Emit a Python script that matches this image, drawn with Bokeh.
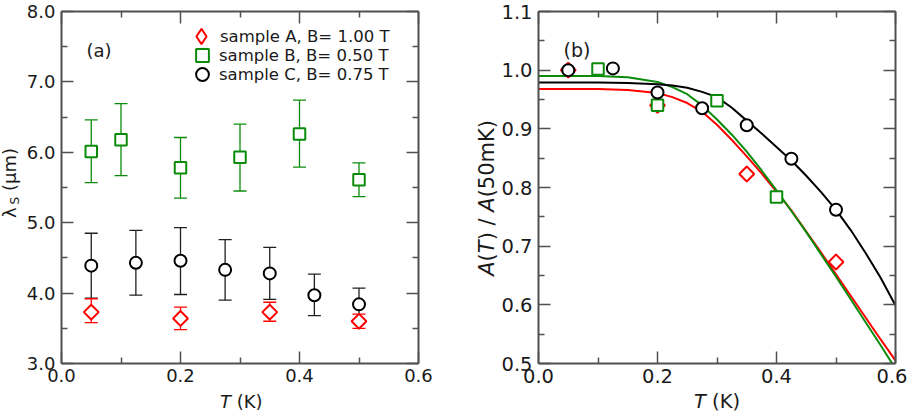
import math
from bokeh.plotting import figure
from bokeh.models import (Range1d, FixedTicker, NumeralTickFormatter, LinearAxis, Whisker,
                          TeeHead, ColumnDataSource, Label, Legend, LegendItem, Div,
                          CustomJSTickFormatter)
from bokeh.layouts import row, column
from bokeh.embed import file_html
from bokeh.resources import INLINE

# ---------------- data: panel (a) ----------------
T_A = [0.05, 0.2, 0.35, 0.5]
lam_A = [3.73, 3.64, 3.73, 3.60]
lam_A_hi = [3.92, 3.80, 3.87, 3.70]
lam_A_lo = [3.58, 3.48, 3.60, 3.50]

T_B = [0.05, 0.1, 0.2, 0.3, 0.4, 0.5]
lam_B = [6.01, 6.18, 5.78, 5.93, 6.26, 5.61]
lam_B_hi = [6.46, 6.69, 6.21, 6.40, 6.74, 5.85]
lam_B_lo = [5.57, 5.67, 5.35, 5.45, 5.79, 5.37]

T_C = [0.05, 0.125, 0.2, 0.275, 0.35, 0.425, 0.5]
lam_C = [4.39, 4.43, 4.46, 4.33, 4.28, 3.97, 3.84]
lam_C_hi = [4.85, 4.89, 4.93, 4.76, 4.65, 4.27, 4.07]
lam_C_lo = [3.93, 3.97, 3.98, 3.90, 3.91, 3.68, 3.61]

legend_labels = ["sample A, B= 1.00 T", "sample B, B= 0.50 T", "sample C, B= 0.75 T"]

# ---------------- data: panel (b) ----------------
Tb_A = [0.05, 0.2, 0.35, 0.5]
amp_A = [1.000, 0.940, 0.823, 0.673]
Tb_B = [0.1, 0.2, 0.3, 0.4]
amp_B = [1.002, 0.940, 0.948, 0.784]
Tb_C = [0.05, 0.125, 0.2, 0.275, 0.35, 0.425, 0.5]
amp_C = [1.000, 1.003, 0.962, 0.935, 0.906, 0.849, 0.762]

fit_T = [0.0, 0.05, 0.1, 0.15, 0.2, 0.225, 0.25, 0.275, 0.3, 0.325, 0.35, 0.375,
         0.4, 0.425, 0.45, 0.475, 0.5, 0.525, 0.55, 0.575, 0.6]
fit_A = [0.968, 0.968, 0.968, 0.966, 0.961, 0.954, 0.944, 0.929, 0.907, 0.881, 0.853, 0.824,
         0.793, 0.761, 0.725, 0.689, 0.652, 0.615, 0.578, 0.541, 0.505]
fit_B = [0.990, 0.990, 0.990, 0.988, 0.980, 0.971, 0.959, 0.940, 0.916, 0.890, 0.861, 0.829,
         0.795, 0.760, 0.724, 0.686, 0.648, 0.609, 0.570, 0.531, 0.491]
fit_C = [0.979, 0.979, 0.979, 0.978, 0.976, 0.974, 0.970, 0.963, 0.954, 0.936, 0.914, 0.892,
         0.869, 0.846, 0.820, 0.792, 0.762, 0.727, 0.688, 0.646, 0.599]

x_ticks = [0.0, 0.2, 0.4, 0.6]
x_minor = [0.1, 0.3, 0.5]
ya_ticks = [3.0, 4.0, 5.0, 6.0, 7.0, 8.0]
ya_minor = [3.5, 4.5, 5.5, 6.5, 7.5]
yb_ticks = [0.5, 0.6, 0.7, 0.8, 0.9, 1.0, 1.1]
yb_minor = [0.55, 0.65, 0.75, 0.85, 0.95, 1.05]

RED = "#ff0000"
GREEN = "#0a8c0a"
BLACK = "#000000"
AX = "#505050"
TXT = "#1a1a1a"
FONT = "DejaVu Sans"
FRAME_W, FRAME_H = 357, 352
TOP, BOTTOM = 11, 28
XLAB_H = 22


def make_fig(ml, mr, yr, yticks, yminor, fs):
    p = figure(frame_width=FRAME_W, frame_height=FRAME_H, x_range=Range1d(0, 0.6),
               y_range=Range1d(*yr), output_backend="svg", toolbar_location=None,
               min_border_left=ml, min_border_right=mr, min_border_top=TOP,
               min_border_bottom=BOTTOM, x_axis_location=None, y_axis_location=None,
               margin=0)
    p.outline_line_color = None
    p.grid.visible = False
    p.background_fill_color = "white"
    p.border_fill_color = "white"
    for loc, dim in [("below", "x"), ("above", "x"), ("left", "y"), ("right", "y")]:
        ticks = x_ticks if dim == "x" else yticks
        minor = x_minor if dim == "x" else yminor
        ax = LinearAxis(ticker=FixedTicker(ticks=ticks, minor_ticks=minor),
                        formatter=NumeralTickFormatter(format="0.0"),
                        axis_line_color=AX, axis_line_width=2,
                        major_tick_line_color=AX, major_tick_line_width=1.5,
                        minor_tick_line_color=AX, minor_tick_line_width=1.5,
                        major_tick_in=12, major_tick_out=0, minor_tick_in=6, minor_tick_out=0,
                        major_label_text_font=FONT, major_label_text_font_size=fs,
                        major_label_text_color=TXT,
                        major_label_standoff=5 if dim == "x" else 6)
        if loc in ("above", "right"):
            ax.formatter = CustomJSTickFormatter(code="return ''")
            ax.major_label_standoff = 0
        p.add_layout(ax, loc)
    return p


def whisk(p, xs, hi, lo, color):
    src = ColumnDataSource(dict(x=xs, upper=hi, lower=lo))
    w = Whisker(base="x", upper="upper", lower="lower", source=src, dimension="height",
                line_color=color, line_width=1.3,
                upper_head=TeeHead(size=13, line_color=color, line_width=1.3),
                lower_head=TeeHead(size=13, line_color=color, line_width=1.3))
    w.level = "underlay"
    p.add_layout(w)


def one_legend(p, label, rend, x_off, y_off, box, standoff):
    p.add_layout(Legend(items=[LegendItem(label=label, renderers=[rend])],
                        location=(x_off, y_off), label_text_font=FONT,
                        label_text_font_size="16.5px", label_text_color=TXT,
                        glyph_width=box, glyph_height=box, label_height=19,
                        label_standoff=standoff, spacing=0, padding=0, margin=0,
                        border_line_color=None, background_fill_alpha=0))


# ---------------- panel (a) ----------------
pa = make_fig(40, 49, (3.0, 8.0), ya_ticks, ya_minor, "18px")
whisk(pa, T_B, lam_B_hi, lam_B_lo, GREEN)
whisk(pa, T_C, lam_C_hi, lam_C_lo, "#202020")
whisk(pa, T_A, lam_A_hi, lam_A_lo, RED)
rB = pa.scatter(T_B, lam_B, marker="square", size=11.5, line_color=GREEN, line_width=2,
                fill_color="white")
rC = pa.scatter(T_C, lam_C, marker="circle", size=12, line_color=BLACK, line_width=2,
                fill_color="white")
# zero-size twin of sample A, only used for its (unrotated) diamond legend glyph
rA_leg = pa.scatter(T_A, lam_A, marker="diamond", size=0, line_color=RED, line_width=2,
                    fill_color="white")
rA = pa.scatter(T_A, lam_A, marker="square", angle=math.pi / 4, size=10.5, line_color=RED,
                line_width=2, fill_color="white")
one_legend(pa, legend_labels[0], rA_leg, 121, 308, 38, 0)
one_legend(pa, legend_labels[1], rB, 125, 292, 32, 1)
one_legend(pa, legend_labels[2], rC, 125, 273, 32, 1)
pa.add_layout(Label(x=0.042, y=7.445, text="(a)", text_font=FONT, text_font_size="18px",
                    text_color=TXT, text_baseline="alphabetic"))

# ---------------- panel (b) ----------------
pb = make_fig(38, 12, (0.5, 1.1), yb_ticks, yb_minor, "19.5px")
pb.line(fit_T, fit_A, line_color=RED, line_width=2)
pb.line(fit_T, fit_B, line_color=GREEN, line_width=2)
pb.line(fit_T, fit_C, line_color=BLACK, line_width=2)
pb.scatter(Tb_A, amp_A, marker="square", angle=math.pi / 4, size=10.5, line_color=RED,
           line_width=2, fill_color="white")
pb.scatter(Tb_B, amp_B, marker="square", size=11.5, line_color=GREEN, line_width=2,
           fill_color="white")
pb.scatter(Tb_C, amp_C, marker="circle", size=12, line_color=BLACK, line_width=2,
           fill_color="white")
pb.add_layout(Label(x=0.042, y=1.034, text="(b)", text_font=FONT, text_font_size="19px",
                    text_color=TXT, text_baseline="alphabetic"))

# ---------------- axis titles (HTML text for italic / subscript parts) ----------------
FIG_H = TOP + FRAME_H + BOTTOM
SPAN = (f"font-family:'{FONT}';color:{TXT};white-space:nowrap;line-height:1;"
        "writing-mode:vertical-rl;transform:rotate(180deg);")

ylab_a = Div(width=21, height=FIG_H + XLAB_H, margin=0, text=(
    f"<div style='width:21px;height:369px;display:flex;align-items:center;"
    f"justify-content:center;'><span style=\"{SPAN}font-size:18px;\">"
    "<span style='margin-inline:3px'>\u03bb</span><sub style='font-size:12px'>S</sub>"
    " (\u03bcm)</span></div>"))

ylab_b = Div(width=31, height=FIG_H + XLAB_H, margin=0, text=(
    f"<div style='width:31px;height:395px;display:flex;align-items:center;"
    f"justify-content:flex-end;'><span style=\"{SPAN}font-size:21px;\">"
    "<i>A</i>(<i>T</i>) / <i>A</i>(50mK)</span></div>"))

XL = f"font-family:'{FONT}';color:{TXT};white-space:nowrap;line-height:{XLAB_H}px;"
xlab_a = Div(width=40 + FRAME_W + 49, height=XLAB_H, margin=0, text=(
    f"<div style=\"{XL}font-size:18px;padding-left:199px;\"><i>T</i> (K)</div>"))
xlab_b = Div(width=38 + FRAME_W + 12, height=XLAB_H, margin=0, text=(
    f"<div style=\"{XL}font-size:19.5px;padding-left:196px;\"><i>T</i> (K)</div>"))

layout = row(ylab_a, column(pa, xlab_a, spacing=0), ylab_b, column(pb, xlab_b, spacing=0),
             spacing=0)
open("out.html", "w").write(file_html(layout, INLINE))
